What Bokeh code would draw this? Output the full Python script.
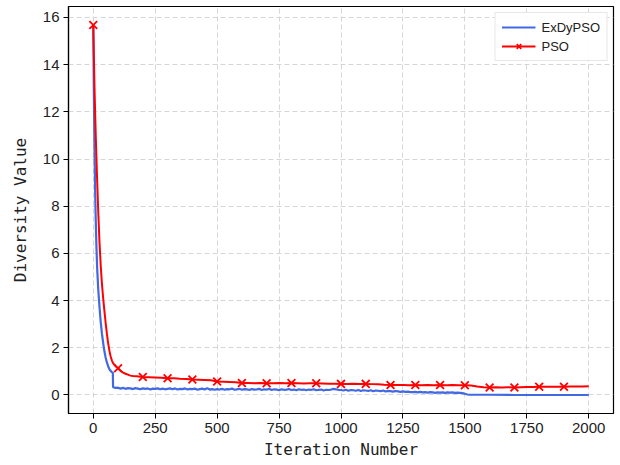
from bokeh.plotting import figure
from bokeh.models import Range1d, Legend, LegendItem, FixedTicker
from bokeh.embed import file_html
from bokeh.resources import INLINE

# ExDyPSO population diversity per iteration
exdy_iter = [0, 2, 4, 6, 8, 10, 13, 16, 20, 25, 30, 35, 40, 45, 50, 55, 60, 65, 70, 75, 79,
             80, 90, 100, 110, 120, 130, 140, 150, 160, 170, 180, 190, 200, 210, 220, 230, 240,
             250, 260, 270, 280, 290, 300, 310, 320, 330, 340, 350, 360, 370, 380, 390, 400,
             410, 420, 430, 440, 450, 460, 470, 480, 490, 500, 510, 520, 530, 540, 550, 560,
             570, 580, 590, 600, 610, 620, 630, 640, 650, 660, 670, 680, 690, 700, 710, 720,
             730, 740, 750, 760, 770, 780, 790, 800, 810, 820, 830, 840, 850, 860, 870, 880,
             890, 900, 910, 920, 930, 940, 950, 960, 970, 980, 990, 1000, 1010, 1020, 1030,
             1040, 1050, 1060, 1070, 1080, 1090, 1100, 1110, 1120, 1130, 1140, 1150, 1160,
             1170, 1180, 1190, 1200, 1210, 1220, 1230, 1240, 1250, 1260, 1270, 1280, 1290,
             1300, 1310, 1320, 1330, 1340, 1350, 1360, 1370, 1380, 1390, 1400, 1410, 1420,
             1430, 1440, 1450, 1460, 1470, 1480, 1490, 1500, 1510, 1520, 1600, 1700, 1800,
             1900, 2000]
exdy_div = [15.68, 13.2, 11.3, 9.7, 8.4, 7.4, 6.2, 5.3, 4.5, 3.75, 3.1, 2.6, 2.2, 1.85, 1.58,
            1.38, 1.22, 1.1, 1.02, 0.97, 0.94,
            0.33, 0.30, 0.31, 0.27, 0.30, 0.26, 0.29, 0.28, 0.25, 0.29, 0.27, 0.24, 0.28, 0.26,
            0.28, 0.23, 0.27, 0.26, 0.28, 0.24, 0.27, 0.24, 0.26, 0.28, 0.24, 0.28, 0.23, 0.26,
            0.25, 0.28, 0.23, 0.26, 0.25, 0.27, 0.22, 0.25, 0.27, 0.23, 0.29, 0.23, 0.25, 0.22,
            0.25, 0.23, 0.26, 0.22, 0.25, 0.24, 0.27, 0.22, 0.24, 0.26, 0.22, 0.25, 0.24, 0.21,
            0.25, 0.23, 0.24, 0.26, 0.21, 0.24, 0.23, 0.26, 0.21, 0.24, 0.23, 0.20, 0.24, 0.22,
            0.23, 0.25, 0.21, 0.23, 0.20, 0.24, 0.22, 0.23, 0.20, 0.23, 0.22, 0.24, 0.20, 0.22,
            0.23, 0.19, 0.22, 0.21, 0.23, 0.26, 0.24, 0.22, 0.21, 0.19, 0.22, 0.18, 0.21, 0.20,
            0.18, 0.21, 0.17, 0.20, 0.19, 0.17, 0.20, 0.16, 0.19, 0.18, 0.16, 0.19, 0.15, 0.17,
            0.16, 0.14, 0.17, 0.15, 0.13, 0.15, 0.13, 0.14, 0.12, 0.12, 0.13, 0.11, 0.13, 0.11,
            0.12, 0.10, 0.12, 0.11, 0.09, 0.11, 0.10, 0.11, 0.09, 0.11, 0.10, 0.11, 0.09, 0.10,
            0.09, 0.08, 0.05, 0.02, 0.01, 0.01, 0.0, 0.0, 0.0, 0.0]

# Standard PSO population diversity per iteration
pso_iter = [0, 5, 10, 15, 20, 25, 30, 35, 40, 45, 50, 55, 60, 65, 70, 75, 80, 90, 100, 110,
            120, 130, 140, 150, 160, 175, 200, 225, 250, 275, 300, 325, 350, 375, 400, 425,
            450, 475, 500, 525, 550, 575, 600, 625, 650, 675, 700, 725, 750, 775, 800, 825,
            850, 875, 900, 925, 950, 975, 1000, 1025, 1050, 1075, 1100, 1125, 1150, 1175,
            1200, 1225, 1250, 1275, 1300, 1325, 1350, 1375, 1400, 1425, 1450, 1475, 1500,
            1525, 1550, 1575, 1600, 1625, 1650, 1675, 1700, 1725, 1750, 1775, 1800, 1825,
            1850, 1875, 1900, 1925, 1950, 1975, 2000]
pso_div = [15.68, 13.0, 11.0, 9.3, 7.8, 6.5, 5.5, 4.7, 4.1, 3.55, 3.05, 2.6, 2.2, 1.88, 1.64,
           1.47, 1.35, 1.22, 1.13, 1.03, 0.95, 0.90, 0.86, 0.82, 0.80, 0.79, 0.76, 0.75, 0.74,
           0.73, 0.71, 0.71, 0.69, 0.68, 0.66, 0.65, 0.64, 0.62, 0.57, 0.56, 0.55, 0.54, 0.51,
           0.51, 0.50, 0.51, 0.50, 0.50, 0.51, 0.50, 0.51, 0.50, 0.49, 0.50, 0.50, 0.49, 0.48,
           0.48, 0.47, 0.47, 0.48, 0.47, 0.47, 0.46, 0.45, 0.43, 0.42, 0.42, 0.42, 0.41, 0.42,
           0.41, 0.42, 0.41, 0.42, 0.41, 0.42, 0.41, 0.41, 0.40, 0.36, 0.33, 0.32, 0.33, 0.32,
           0.33, 0.32, 0.33, 0.34, 0.34, 0.35, 0.35, 0.35, 0.35, 0.35, 0.36, 0.36, 0.36, 0.37]

x_ticks = [0, 250, 500, 750, 1000, 1250, 1500, 1750, 2000]
y_ticks = [0, 2, 4, 6, 8, 10, 12, 14, 16]

# markers every 100 iterations (last one at 1900)
mark_x = [x for x in pso_iter if x % 100 == 0 and x < 2000]
mark_y = [y for x, y in zip(pso_iter, pso_div) if x % 100 == 0 and x < 2000]

TICK_FONT = "Liberation Sans"
LABEL_FONT = "DejaVu Sans Mono"

p = figure(width=620, height=465, output_backend="svg", toolbar_location=None,
           x_range=Range1d(-100, 2100), y_range=Range1d(-0.785, 16.465),
           min_border_left=68, min_border_right=7, min_border_top=6, min_border_bottom=52)

p.background_fill_color = "white"
p.border_fill_color = "white"
p.outline_line_color = "black"
p.outline_line_width = 1.2
p.outline_line_alpha = 1.0

for ax in (p.xaxis[0], p.yaxis[0]):
    ax.axis_line_color = "black"
    ax.axis_line_width = 1.2
    ax.major_tick_out = 5
    ax.major_tick_in = 0
    ax.major_tick_line_color = "black"
    ax.minor_tick_line_color = None
    ax.major_label_text_font = TICK_FONT
    ax.major_label_text_font_size = "15px"
    ax.major_label_text_color = "#222222"
    ax.axis_label_text_font = LABEL_FONT
    ax.axis_label_text_font_size = "16px"
    ax.axis_label_text_font_style = "normal"
    ax.axis_label_text_color = "#222222"

p.xaxis.ticker = FixedTicker(ticks=x_ticks)
p.yaxis.ticker = FixedTicker(ticks=y_ticks)
p.xaxis.axis_label = "Iteration Number"
p.yaxis.axis_label = "Diversity Value"
p.xaxis.axis_label_standoff = 4
p.yaxis.axis_label_standoff = 10
p.xaxis.major_label_standoff = 4
p.yaxis.major_label_standoff = 4

p.xgrid.grid_line_color = "#d6d6d6"
p.ygrid.grid_line_color = "#d6d6d6"
p.xgrid.grid_line_dash = "5 3"
p.ygrid.grid_line_dash = "5 3"
p.xgrid.grid_line_width = 1
p.ygrid.grid_line_width = 1

blue = p.line(exdy_iter, exdy_div, line_color="#4169e1", line_width=2.2)
red = p.line(pso_iter, pso_div, line_color="#ff0000", line_width=2)
marks = p.scatter(mark_x, mark_y, marker="x", size=11, line_color="#ff0000", line_width=1.8)

legend = Legend(items=[LegendItem(label="ExDyPSO", renderers=[blue]),
                       LegendItem(label="PSO", renderers=[red, marks])],
                location="top_right")
legend.label_text_font = TICK_FONT
legend.label_text_font_size = "13px"
legend.label_text_color = "#222222"
legend.border_line_color = "#d0d0d0"
legend.border_line_width = 1
legend.background_fill_alpha = 0.9
legend.glyph_width = 34
legend.glyph_height = 16
legend.label_standoff = 6
legend.spacing = 3
legend.padding = 6
legend.margin = 6
legend.label_height = 16
p.add_layout(legend)

open("out.html", "w").write(file_html(p, INLINE))
